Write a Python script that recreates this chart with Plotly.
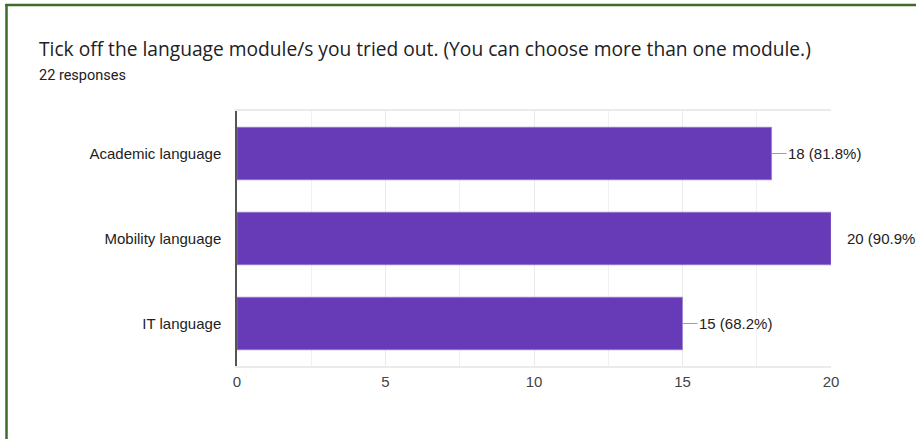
import plotly.graph_objects as go

categories = ["Academic language", "Mobility language", "IT language"]
counts = [18, 20, 15]
total_responses = 22
labels = [f"{c} ({c / total_responses * 100:.1f}%)" for c in counts]
x_max = 20

W, H = 916, 439
L, R, T, B = 237, 85, 111, 73
pw, ph = W - L - R, H - T - B


def px_x(px):
    return (px - L) / pw


def px_y(py):
    return (H - B - py) / ph


fig = go.Figure(
    go.Bar(
        x=counts,
        y=categories,
        orientation="h",
        marker=dict(color="#673ab7", line=dict(color="#9b7fd4", width=0.6)),
        width=0.62,
        hoverinfo="skip",
    )
)

annotations = []
for c, cat, lab in zip(counts, categories, labels):
    annotations.append(
        dict(
            x=c, y=cat, xref="x", yref="y", text=lab,
            showarrow=True, arrowhead=0, arrowwidth=1.2,
            arrowcolor="#9e9e9e" if c < x_max else "rgba(0,0,0,0)",
            ax=15, ay=0, xanchor="left", yanchor="middle",
            font=dict(family="Liberation Sans, Arial", size=15, color="#222"),
            borderpad=0, standoff=0,
        )
    )

annotations.append(dict(
    text="Tick off the language module/s you tried out. (You can choose more than one module.)",
    xref="paper", yref="paper", x=px_x(37), y=px_y(49), xanchor="left", yanchor="middle",
    showarrow=False, font=dict(family="Open Sans", size=19.2, color="#202124"),
))
annotations.append(dict(
    text="22 responses",
    xref="paper", yref="paper", x=px_x(37), y=px_y(75), xanchor="left", yanchor="middle",
    showarrow=False, font=dict(family="Roboto", size=14.5, color="#202124"),
))

shapes = [
    dict(type="line", xref="paper", yref="paper", x0=px_x(6.5), x1=px_x(6.5), y0=px_y(4), y1=px_y(445),
         line=dict(color="#3f6b2a", width=2.5)),
    dict(type="line", xref="paper", yref="paper", x0=px_x(5.3), x1=px_x(920), y0=px_y(5), y1=px_y(5),
         line=dict(color="#3f6b2a", width=2.5)),
]

fig.update_layout(
    width=W, height=H,
    margin=dict(l=L, r=R, t=T, b=B, pad=0),
    paper_bgcolor="white", plot_bgcolor="white",
    showlegend=False,
    annotations=annotations,
    shapes=shapes,
    bargap=0.38,
    font=dict(family="Liberation Sans, Arial", size=15, color="#333"),
)
fig.update_xaxes(
    range=[0, x_max], tickvals=[0, 5, 10, 15, 20], showgrid=True, gridcolor="#ebebeb", gridwidth=1,
    minor=dict(tickvals=[2.5, 7.5, 12.5, 17.5], showgrid=True, gridcolor="#f1f1f1", gridwidth=1),
    zeroline=False, showline=True, linecolor="#ebebeb", linewidth=1.5, mirror=True,
    ticks="", ticklabelstandoff=1, tickfont=dict(size=15, color="#444"), fixedrange=True,
)
fig.update_yaxes(
    autorange="reversed", showline=True, linecolor="#555", linewidth=1.5,
    ticks="", ticklabelstandoff=11, tickfont=dict(size=15, color="#222"), showgrid=False,
    fixedrange=True,
)

fig.write_html(
    "out.html",
    config={"displayModeBar": False},
    post_script="document.body.style.margin='0';document.body.style.overflow='hidden';",
)
